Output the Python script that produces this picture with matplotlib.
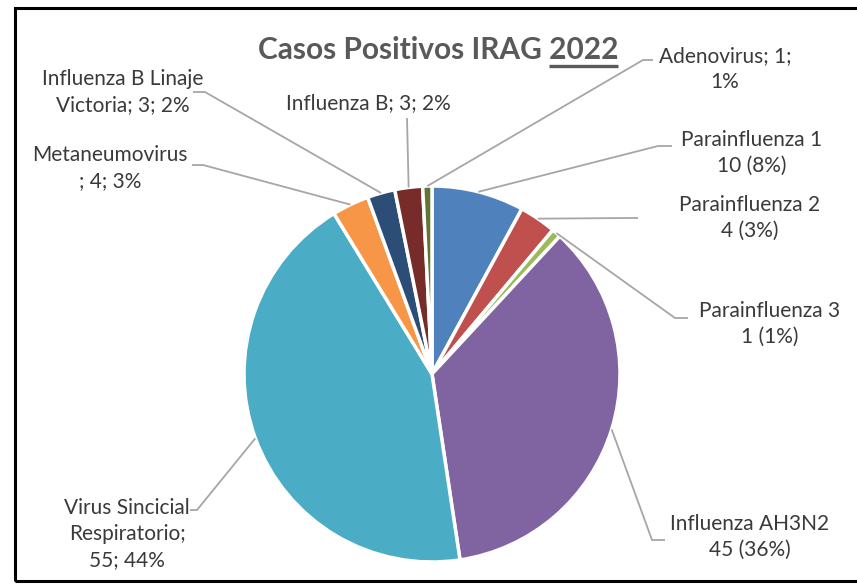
import numpy as np
import matplotlib.pyplot as plt
from matplotlib.patches import Rectangle

# data
labels = ['Parainfluenza 1', 'Parainfluenza 2', 'Parainfluenza 3', 'Influenza AH3N2',
          'Virus Sincicial Respiratorio', 'Metaneumovirus', 'Influenza B Linaje Victoria',
          'Influenza B', 'Adenovirus']
values = [10, 4, 1, 45, 55, 4, 3, 3, 1]
label_texts = ['Parainfluenza 1\n10 (8%)', 'Parainfluenza 2\n4 (3%)', 'Parainfluenza 3\n1 (1%)',
               'Influenza AH3N2\n45 (36%)', 'Virus Sincicial\nRespiratorio;\n55; 44%',
               'Metaneumovirus\n; 4; 3%', 'Influenza B Linaje\nVictoria; 3; 2%',
               'Influenza B; 3; 2%', 'Adenovirus; 1;\n1%']
colors = ['#4F81BD', '#C0504D', '#9BBB59', '#8064A2', '#4BACC6',
          '#F79646', '#2C4D75', '#772C2A', '#5F7530']

W, H = 857, 584
# label layout in pixels (y down): text centre, elbow, end of leader
text_pos = [(752, 153), (750, 218), (770, 324), (750, 537), (127, 534),
            (110, 168), (123, 92), (368, 103), (725, 69)]
elbows = [(658, 146), (628, 218), (675, 318), (652, 540), (197, 510),
          (203, 165), (205, 92), (407, 118), (643, 60)]
ends = [(672, 146), (638, 218), (688, 318), (665, 540), (190, 510),
        (192, 165), (193, 92), (407, 118), (653, 60)]

fig = plt.figure(figsize=(W / 100, H / 100), dpi=100)
ax = fig.add_axes([0, 0, 1, 1])

cx, cy, r = 432, H - 374, 188
wedges, _ = ax.pie(values, colors=colors, startangle=90, counterclock=False,
                   center=(cx, cy), radius=r, frame=True,
                   wedgeprops=dict(edgecolor='white', linewidth=2.5))
ax.set_xlim(0, W)
ax.set_ylim(0, H)
ax.set_aspect('equal')
ax.axis('off')

font = 'Lato'
txt_col = '#3A3A3A'
line_col = '#A6A6A6'
for w, t, tp, el, en in zip(wedges, label_texts, text_pos, elbows, ends):
    mid = np.deg2rad((w.theta1 + w.theta2) / 2)
    sx, sy = cx + r * np.cos(mid), cy + r * np.sin(mid)
    ax.plot([sx, el[0], en[0]], [sy, H - el[1], H - en[1]], color=line_col, lw=1.3,
            solid_capstyle='butt', zorder=1)
    ax.text(tp[0], H - tp[1], t, ha='center', va='center', fontsize=15,
            family=font, color=txt_col, linespacing=1.4)

title = ax.text(438, H - 50, 'Casos Positivos IRAG 2022', ha='center', va='center',
                fontsize=21.5, fontweight='bold', family=font, color='#595959')

fig.canvas.draw()
rend = fig.canvas.get_renderer()
bb = title.get_window_extent(rend)
tmp = ax.text(0, 0, '2022', fontsize=21.5, fontweight='bold', family=font)
w2022 = tmp.get_window_extent(rend).width
tmp.remove()
ax.plot([bb.x1 - w2022, bb.x1], [bb.y0 - 2, bb.y0 - 2], color='#595959', lw=2.4,
        solid_capstyle='butt')

fig.add_artist(Rectangle((15 / W, 3 / H), (W + 10) / W, (H - 11) / H,
                         transform=fig.transFigure, fill=False, edgecolor='black',
                         lw=2.2, clip_on=False))

fig.savefig('out.png', dpi=100, facecolor='white')
